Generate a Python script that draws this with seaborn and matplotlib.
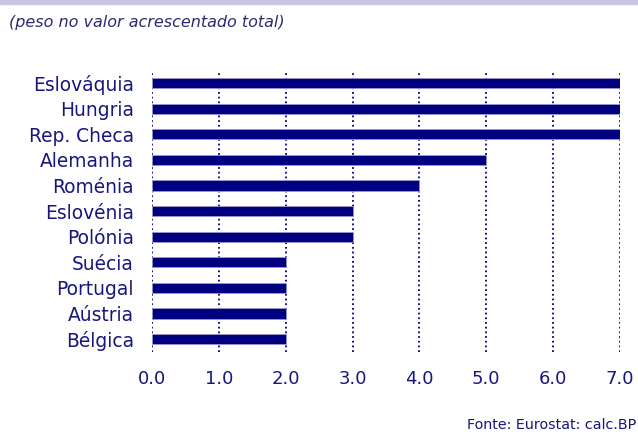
import seaborn as sns
import matplotlib.pyplot as plt
import pandas as pd

countries = ["Eslováquia", "Hungria", "Rep. Checa", "Alemanha", "Roménia",
             "Eslovénia", "Polónia", "Suécia", "Portugal", "Aústria", "Bélgica"]
weights = [7, 7, 7, 5, 4, 3, 3, 2, 2, 2, 2]
xticks = [0, 1, 2, 3, 4, 5, 6, 7]

navy = "#000080"
txt = "#16167e"

df = pd.DataFrame({"pais": countries, "peso": weights})

sns.set_style("white")
plt.rcParams["font.family"] = ["DejaVu Sans"]

fig = plt.figure(figsize=(6.38, 4.32), dpi=100)
ax = fig.add_axes([0.2382, 0.1852, 0.7336, 0.6481])

sns.barplot(data=df, x="peso", y="pais", color=navy, saturation=1, width=0.4,
            edgecolor="#9a9acc", linewidth=0.6, ax=ax, zorder=3)

for v in xticks:
    ax.axvline(v, color=navy, linestyle=(0, (1, 1.6)), linewidth=1.3, zorder=1)

ax.set_xlim(0, 7)
ax.set_ylim(10.5, -0.43)
ax.set_xticks(xticks)
ax.set_xticklabels([f"{v:.1f}" for v in xticks])
ax.set_xlabel("")
ax.set_ylabel("")
ax.tick_params(axis="both", length=0, labelcolor=txt)
ax.tick_params(axis="x", pad=13, labelsize=13)
ax.tick_params(axis="y", pad=13, labelsize=13.4)
sns.despine(ax=ax, left=True, bottom=True)

fig.patches.append(plt.Rectangle((0, 0.991), 1, 0.009, transform=fig.transFigure,
                                 color="#c8c8e0", zorder=0))
fig.text(0.014, 0.949, "(peso no valor acrescentado total)", fontsize=11.5,
         style="italic", color="#2a2a70", va="center", ha="left")
fig.text(0.997, 0.016, "Fonte: Eurostat: calc.BP", fontsize=10.25,
         color=txt, va="center", ha="right")

fig.savefig("out.png", dpi=100)
